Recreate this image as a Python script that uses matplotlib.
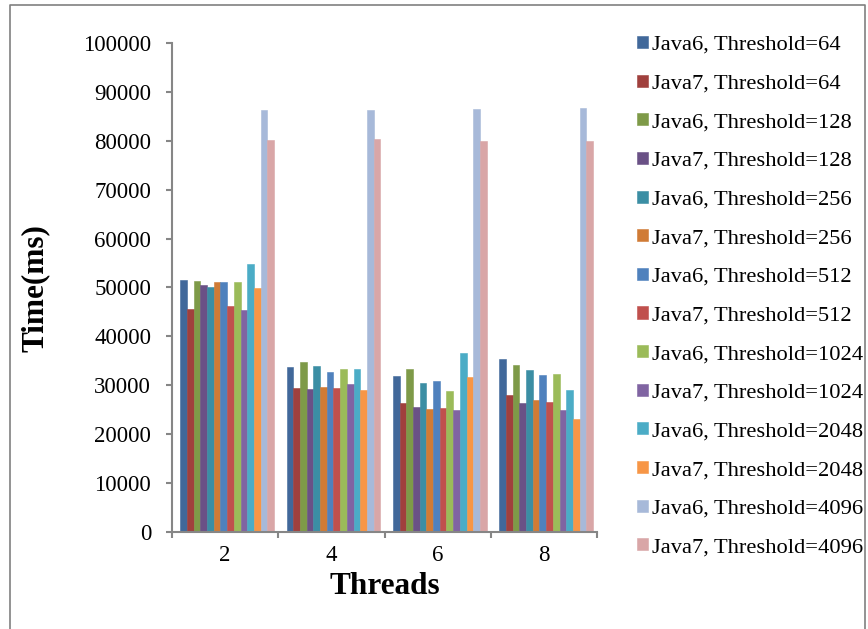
import numpy as np
import matplotlib
matplotlib.use("Agg")
import matplotlib.pyplot as plt
from matplotlib.lines import Line2D

threads = ["2", "4", "6", "8"]
series_names = [
    "Java6, Threshold=64", "Java7, Threshold=64",
    "Java6, Threshold=128", "Java7, Threshold=128",
    "Java6, Threshold=256", "Java7, Threshold=256",
    "Java6, Threshold=512", "Java7, Threshold=512",
    "Java6, Threshold=1024", "Java7, Threshold=1024",
    "Java6, Threshold=2048", "Java7, Threshold=2048",
    "Java6, Threshold=4096", "Java7, Threshold=4096",
]
colors = ["#41689A", "#A0403D", "#7E9A48", "#6A5186", "#3B8EA4", "#D07B35",
          "#4F81BD", "#C0504D", "#9BBB59", "#8064A2", "#4BACC6", "#F79646",
          "#A7B9D9", "#D9A6A7"]

# one list per thread count, in series order
t2 = [51500, 45500, 51300, 50500, 50100, 51050, 51050, 46150, 51100, 45400, 54700, 49800, 86300, 80200]
t4 = [33800, 29450, 34800, 29300, 34000, 29600, 32650, 29450, 33300, 30300, 33400, 29000, 86300, 80400]
t6 = [32000, 26300, 33400, 25600, 30500, 25100, 30900, 25400, 28800, 25000, 36700, 31700, 86400, 80000]
t8 = [35300, 28000, 34200, 26400, 33200, 27100, 32200, 26500, 32300, 24900, 29000, 23200, 86600, 80000]

values = np.array([t2, t4, t6, t8])

plt.rcParams['font.family'] = ['Liberation Serif', 'DejaVu Serif']

fig = plt.figure(figsize=(8.68, 6.29), dpi=100)
ax = fig.add_axes([0.198, 0.154, 0.49, 0.778])

n = len(series_names)
group_w = 0.88
bw = group_w / n
centers = np.arange(len(threads)) + 0.52
for i in range(n):
    xs = centers - group_w / 2 + bw * (i + 0.5)
    ax.bar(xs, values[:, i], width=bw, color=colors[i], label=series_names[i],
           edgecolor=colors[i], linewidth=0.4)

ax.set_xlim(0, 4)
ax.set_ylim(0, 100000)
ax.set_yticks(np.arange(0, 100001, 10000))
ax.set_yticklabels([str(v) for v in range(0, 100001, 10000)], fontsize=16.5)

ax.set_xticks(np.arange(0, 5))
ax.set_xticklabels([])
ax.set_xticks(np.arange(len(threads)) + 0.5, minor=True)
ax.set_xticklabels(threads, minor=True, fontsize=16.5)
ax.tick_params(axis='x', which='minor', length=0, pad=9)
ax.tick_params(axis='x', which='major', length=4, color='#868686', width=1.5)
ax.tick_params(axis='y', length=4, color='#868686', width=1.5, pad=11)

for s in ['top', 'right']:
    ax.spines[s].set_visible(False)
for s in ['left', 'bottom']:
    ax.spines[s].set_color('#868686')
    ax.spines[s].set_linewidth(1.5)

fig.text(35 / 868, 1 - 288 / 629, "Time(ms)", rotation=90, ha='center', va='center',
         fontsize=22.5, fontweight='bold')
fig.text(385 / 868, 1 - 586 / 629, "Threads", ha='center', va='center',
         fontsize=22.5, fontweight='bold')

fig.legend(loc='upper left', bbox_to_anchor=(0.711, 0.975), frameon=False,
           fontsize=16.2, handlelength=0.45, handleheight=0.45, handletextpad=0.22,
           labelspacing=0.87)

# outer chart frame (bottom edge is cropped off in the original)
fx = [10 / 868, 10 / 868, 865 / 868, 865 / 868]
fy = [0, 1 - 5 / 629, 1 - 5 / 629, 0]
fig.add_artist(Line2D(fx, fy, transform=fig.transFigure, color='#808080', linewidth=1.2))

fig.savefig("out.png", dpi=100)
